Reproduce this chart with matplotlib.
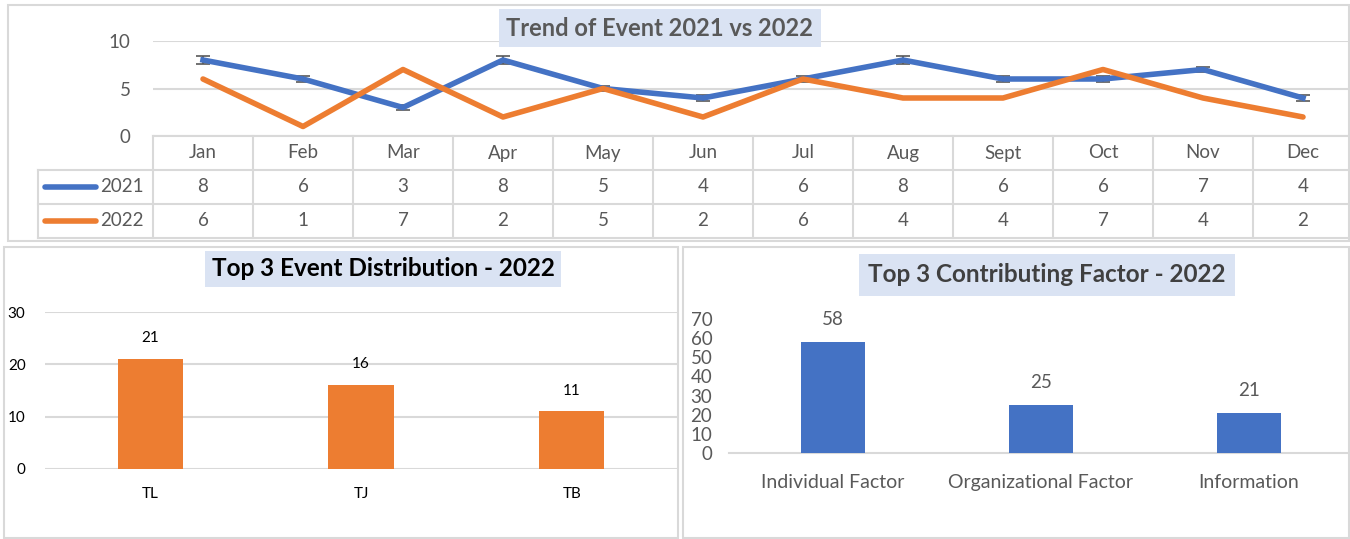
import matplotlib.pyplot as plt
import matplotlib.patches as mpatches
import numpy as np

plt.rcParams['font.family'] = ['Lato', 'DejaVu Sans']

months = ['Jan', 'Feb', 'Mar', 'Apr', 'May', 'Jun', 'Jul', 'Aug', 'Sept', 'Oct', 'Nov', 'Dec']
events_2021 = [8, 6, 3, 8, 5, 4, 6, 8, 6, 6, 7, 4]
events_2022 = [6, 1, 7, 2, 5, 2, 6, 4, 4, 7, 4, 2]
err_2021 = [0.4, 0.3, 0.3, 0.4, 0.3, 0.3, 0.3, 0.4, 0.3, 0.3, 0.3, 0.3]

event_types = ['TL', 'TJ', 'TB']
event_counts = [21, 16, 11]

factors = ['Individual Factor', 'Organizational Factor', 'Information']
factor_counts = [58, 25, 21]

BLUE = '#4472C4'
ORANGE = '#ED7D31'
GREY = '#595959'
LINE = '#D9D9D9'
BOX = '#DAE3F3'

W, H = 1350, 539
fig = plt.figure(figsize=(W / 100, H / 100), dpi=100)


def px_axes(x0, y0, x1, y1):
    # pixel box (top-left origin) -> figure axes
    return fig.add_axes([x0 / W, 1 - y1 / H, (x1 - x0) / W, (y1 - y0) / H])


def panel(x0, y0, x1, y1):
    r = mpatches.Rectangle((x0 / W, 1 - y1 / H), (x1 - x0) / W, (y1 - y0) / H,
                           transform=fig.transFigure, fill=False, edgecolor=LINE, lw=1.5)
    fig.add_artist(r)


panel(8, 5, 1349, 241)
panel(4, 247, 678, 538)
panel(683, 247, 1349, 538)

# ---- top: trend line chart ----
ax = px_axes(153, 41, 1353, 136)
x = np.arange(len(months))
ax.errorbar(x, events_2021, yerr=err_2021, color=BLUE, lw=4, ecolor=GREY,
            elinewidth=1.2, capsize=5, capthick=1.2, zorder=3)
ax.plot(x, events_2022, color=ORANGE, lw=4, zorder=4, solid_capstyle='round')
ax.set_xlim(-0.5, 11.5)
ax.set_ylim(0, 10)
ax.set_yticks([0, 5, 10])
ax.yaxis.grid(True, color=LINE, lw=1.5)
ax.set_axisbelow(True)
ax.set_xticks([])
for s in ['top', 'right', 'left', 'bottom']:
    ax.spines[s].set_visible(False)
ax.tick_params(axis='y', length=0, pad=16, labelsize=13.5, labelcolor=GREY)

# data table under the chart
tab = px_axes(153, 136, 1353, 238)
tab.set_xlim(-0.5, 11.5)
tab.set_ylim(3, 0)
tab.axis('off')
leg_left = -1.65
kw = dict(color=LINE, lw=1.5, clip_on=False)
tab.plot([-0.5, 11.5], [0, 0], **kw)
for yy in [1, 2, 3]:
    tab.plot([leg_left, 11.5], [yy, yy], **kw)
for k in range(13):
    tab.plot([k - 0.5, k - 0.5], [0, 3], **kw)
tab.plot([leg_left, leg_left], [1, 3], **kw)
for i, m in enumerate(months):
    tab.text(i, 0.5, m, ha='center', va='center', fontsize=13.5, color=GREY)
    tab.text(i, 1.5, str(events_2021[i]), ha='center', va='center', fontsize=13.5, color=GREY)
    tab.text(i, 2.5, str(events_2022[i]), ha='center', va='center', fontsize=13.5, color=GREY)
for row, (lab, col) in enumerate([('2021', BLUE), ('2022', ORANGE)]):
    yy = 1.5 + row
    tab.plot([-1.58, -1.07], [yy, yy], color=col, lw=4, solid_capstyle='round', clip_on=False)
    tab.text(-1.03, yy, lab, ha='left', va='center', fontsize=13.5, color=GREY)

fig.text(660 / W, 1 - 28 / H, 'Trend of Event 2021 vs 2022', ha='center', va='center',
         fontsize=17, fontweight='bold', color=GREY,
         bbox=dict(boxstyle='square,pad=0.3', facecolor=BOX, edgecolor='none'))

# ---- bottom left: event distribution ----
ax2 = px_axes(45, 312, 677, 469)
xb = np.arange(len(event_types))
bars = ax2.bar(xb, event_counts, width=0.31, color=ORANGE, zorder=3)
ax2.set_xlim(-0.5, 2.5)
ax2.set_ylim(0, 30)
ax2.set_yticks([0, 10, 20, 30])
ax2.yaxis.grid(True, color=LINE, lw=1.5)
ax2.set_axisbelow(True)
for s in ['top', 'right', 'left', 'bottom']:
    ax2.spines[s].set_visible(False)
ax2.set_xticks(xb)
ax2.set_xticklabels(event_types)
ax2.tick_params(axis='y', length=0, pad=14, labelsize=11, labelcolor='black')
ax2.tick_params(axis='x', length=0, pad=13, labelsize=11, labelcolor='black')
for b, v in zip(bars, event_counts):
    ax2.annotate(str(v), (b.get_x() + b.get_width() / 2, v), xytext=(0, 10),
                 textcoords='offset points', ha='center', va='bottom', fontsize=11)
fig.text(383 / W, 1 - 269 / H, 'Top 3 Event Distribution - 2022', ha='center', va='center',
         fontsize=17.5, fontweight='bold', color='black',
         bbox=dict(boxstyle='square,pad=0.25', facecolor=BOX, edgecolor='none'))

# ---- bottom right: contributing factors ----
ax3 = px_axes(729, 319, 1353, 453)
xf = np.arange(len(factors))
bars = ax3.bar(xf, factor_counts, width=0.31, color=BLUE, zorder=3)
ax3.set_xlim(-0.5, 2.5)
ax3.set_ylim(0, 70)
ax3.set_yticks(range(0, 71, 10))
for s in ['top', 'right', 'left']:
    ax3.spines[s].set_visible(False)
ax3.spines['bottom'].set_color(LINE)
ax3.spines['bottom'].set_linewidth(1.5)
ax3.set_xticks(xf)
ax3.set_xticklabels(factors)
ax3.tick_params(axis='y', length=0, pad=12, labelsize=13.5, labelcolor=GREY)
ax3.tick_params(axis='x', length=0, pad=15, labelsize=14, labelcolor=GREY)
for b, v in zip(bars, factor_counts):
    ax3.annotate(str(v), (b.get_x() + b.get_width() / 2, v), xytext=(0, 10),
                 textcoords='offset points', ha='center', va='bottom', fontsize=13.5, color=GREY)
fig.text(1047 / W, 1 - 275 / H, 'Top 3 Contributing Factor - 2022', ha='center', va='center',
         fontsize=17.5, fontweight='bold', color='#404040',
         bbox=dict(boxstyle='square,pad=0.4', facecolor=BOX, edgecolor='none'))

fig.savefig('out.png', dpi=100)
